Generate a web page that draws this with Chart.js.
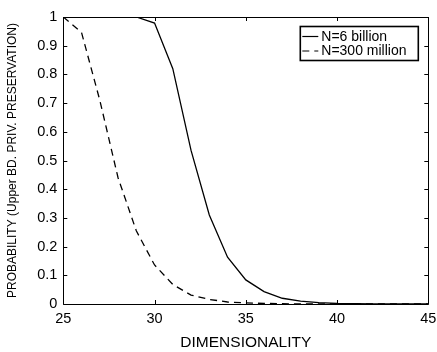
<!DOCTYPE html>
<html>
<head>
<meta charset="utf-8">
<script src="https://cdn.jsdelivr.net/npm/chart.js@4/dist/chart.umd.min.js"></script>
<style>
html,body{margin:0;padding:0;background:#fff;}
#wrap{width:437px;height:352px;position:relative;}
</style>
</head>
<body>
<div id="wrap"><canvas id="c" width="437" height="352"></canvas></div>
<script>
const dimensions = [25,26,27,28,29,30,31,32,33,34,35,36,37,38,39,40,41,42,43,44,45];
const prob6billion = [1,1,1,1,1,0.979,0.82,0.535,0.31,0.163,0.084,0.043,0.02,0.01,0.005,0.002,0.001,0.0005,0.0002,0.0001,0];
const prob300million = [1,0.946,0.71,0.44,0.255,0.136,0.068,0.031,0.016,0.007,0.004,0.002,0.001,0,0,0,0,0,0,0,0];
const seriesLabels = ['N=6 billion','N=300 million'];
const xTicks = [25,30,35,40,45];
const yTicks = [0,0.1,0.2,0.3,0.4,0.5,0.6,0.7,0.8,0.9,1];

const FONT = '"Liberation Sans", Arial, Helvetica, sans-serif';

const toPts = arr => dimensions.map((d,i)=>({x:d,y:arr[i]}));

const frameTicks = {
  id:'frameTicks',
  afterDatasetsDraw(chart){
    const {ctx, chartArea:a, scales} = chart;
    ctx.save();
    ctx.strokeStyle = '#000';
    ctx.lineWidth = 1;
    ctx.beginPath();
    ctx.rect(Math.round(a.left)+0.5, Math.round(a.top)+0.5, Math.round(a.right-a.left), Math.round(a.bottom-a.top));
    ctx.stroke();
    const L = 4;
    ctx.beginPath();
    xTicks.forEach(v=>{
      const px = Math.round(scales.x.getPixelForValue(v))+0.5;
      ctx.moveTo(px, a.bottom); ctx.lineTo(px, a.bottom-L);
      ctx.moveTo(px, a.top); ctx.lineTo(px, a.top+L);
    });
    yTicks.forEach(v=>{
      const py = Math.round(scales.y.getPixelForValue(v))+0.5;
      ctx.moveTo(a.left, py); ctx.lineTo(a.left+L, py);
      ctx.moveTo(a.right, py); ctx.lineTo(a.right-L, py);
    });
    ctx.stroke();
    ctx.restore();
  },
  afterDraw(chart){
    const {ctx, chartArea:a} = chart;
    const w = 118, h = 34;
    const x0 = a.right - 10 - w, y0 = a.top + 9.5;
    ctx.save();
    ctx.fillStyle = '#fff';
    ctx.fillRect(x0, y0, w, h);
    ctx.strokeStyle = '#000';
    ctx.lineWidth = 1.6;
    ctx.strokeRect(x0, y0, w, h);
    ctx.font = '14px ' + FONT;
    ctx.textBaseline = 'middle';
    ctx.fillStyle = '#000';
    chart.data.datasets.forEach((ds,i)=>{
      const cy = y0 + 10 + i*14.5;
      ctx.beginPath();
      ctx.lineWidth = 1.2;
      ctx.setLineDash(ds.borderDash || []);
      ctx.moveTo(x0+2, cy); ctx.lineTo(x0+18, cy);
      ctx.stroke();
      ctx.setLineDash([]);
      ctx.fillText(ds.label, x0+21, cy+0.5);
    });
    ctx.restore();
  }
};

new Chart(document.getElementById('c'), {
  type:'line',
  data:{
    datasets:[
      {label:seriesLabels[0], data:toPts(prob6billion), borderColor:'#000', borderWidth:1.3, pointRadius:0, tension:0, fill:false},
      {label:seriesLabels[1], data:toPts(prob300million), borderColor:'#000', borderWidth:1.3, borderDash:[7,5], pointRadius:0, tension:0, fill:false}
    ]
  },
  options:{
    responsive:false,
    animation:false,
    layout:{padding:{left:0,top:17,right:8.7,bottom:0}},
    plugins:{legend:{display:false}, tooltip:{enabled:false}},
    scales:{
      x:{
        type:'linear', min:25, max:45,
        afterBuildTicks(s){ s.ticks = xTicks.map(v=>({value:v})); },
        afterFit(s){ s.height = 48; s.paddingLeft = 0; s.paddingRight = 0; },
        grid:{display:false, drawTicks:false},
        border:{display:false},
        ticks:{color:'#000', font:{family:FONT, size:14.5}, padding:6, maxRotation:0, autoSkip:false},
        title:{display:true, text:'DIMENSIONALITY', color:'#000', font:{family:FONT, size:15.5}, padding:{top:0,bottom:0}}
      },
      y:{
        type:'linear', min:0, max:1,
        afterBuildTicks(s){ s.ticks = yTicks.map(v=>({value:v})); },
        afterFit(s){ s.width = 63.3; s.paddingTop = 0; s.paddingBottom = 0; },
        grid:{display:false, drawTicks:false},
        border:{display:false},
        ticks:{color:'#000', font:{family:FONT, size:14.5}, padding:6, autoSkip:false, callback:v=>String(v)},
        title:{display:true, text:'PROBABILITY (Upper BD. PRIV. PRESERVATION)', color:'#000', font:{family:FONT, size:12}, padding:{top:5,bottom:0}}
      }
    }
  },
  plugins:[frameTicks]
});
</script>
</body>
</html>
